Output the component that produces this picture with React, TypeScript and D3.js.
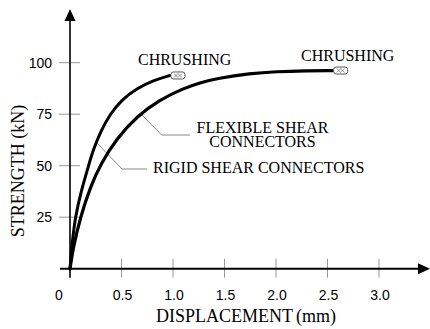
import React from "react";
import * as d3 from "d3";

const W = 430;
const H = 329;

const xTicks = [0, 0.5, 1.0, 1.5, 2.0, 2.5, 3.0];
const xTickLabels = ["0", "0.5", "1.0", "1.5", "2.0", "2.5", "3.0"];
const yTicks = [25, 50, 75, 100];
const yTickLabels = ["25", "50", "75", "100"];

// displacement (mm), strength (kN)
const rigidX = [0, 0.02, 0.05, 0.11, 0.175, 0.22, 0.3, 0.39, 0.5, 0.65, 0.8, 0.97];
const rigidY = [0, 12, 25, 38, 49, 57, 67, 75, 82, 87.5, 91.3, 93.8];
const flexX = [0, 0.03, 0.1, 0.2, 0.3, 0.45, 0.65, 0.87, 1.1, 1.26, 1.43, 1.75, 2.0, 2.3, 2.55];
const flexY = [0, 10, 25, 40, 51, 63, 74, 82, 87.5, 90.3, 92.4, 94.8, 95.7, 96.1, 96.2];

export default function App() {
  const x = d3.scaleLinear().domain([0, 3]).range([70, 379]);
  const y = d3.scaleLinear().domain([0, 100]).range([268.7, 62.7]);
  const line = d3
    .line<[number, number]>()
    .x((d) => x(d[0]))
    .y((d) => y(d[1]))
    .curve(d3.curveBasis);
  const rigid: [number, number][] = rigidX.map((v, i) => [v, rigidY[i]]);
  const flex: [number, number][] = flexX.map((v, i) => [v, flexY[i]]);
  const x0 = x(0);
  const y0 = y(0);
  const serif = "'Liberation Serif', 'Times New Roman', serif";
  const sans = "'Liberation Sans', Arial, sans-serif";

  const marker = (cx: number, cy: number) => (
    <g>
      <rect x={cx - 7} y={cy - 3.5} width={14} height={7} rx={2.5} fill="#fff" stroke="#555" strokeWidth={1} />
      <path d={`M${cx - 4},${cy - 2} L${cx},${cy + 2} M${cx - 4},${cy + 2} L${cx},${cy - 2} M${cx},${cy - 2} L${cx + 4},${cy + 2} M${cx},${cy + 2} L${cx + 4},${cy - 2}`} stroke="#777" strokeWidth={0.8} />
    </g>
  );

  const leader = (pts: [number, number][]) =>
    pts.map((p) => `${x(p[0])},${y(p[1])}`).join(" ");

  const rEnd = rigid[rigid.length - 1];
  const fEnd = flex[flex.length - 1];

  return (
    <svg width={W} height={H} style={{ position: "absolute", left: 0, top: 0, background: "#fff" }}>
      {/* ticks */}
      {xTicks.slice(1).map((t) => (
        <line key={"xt" + t} x1={x(t)} x2={x(t)} y1={y0 - 10} y2={y0 + 9} stroke="#999" strokeWidth={1} />
      ))}
      {yTicks.map((t) => (
        <line key={"yt" + t} x1={x0 - 11} x2={x0 + 10} y1={y(t)} y2={y(t)} stroke="#999" strokeWidth={1} />
      ))}
      {/* axes */}
      <line x1={x0 - 10} x2={420} y1={y0} y2={y0} stroke="#000" strokeWidth={2} />
      <line x1={x0} x2={x0} y1={y0 + 9} y2={20} stroke="#000" strokeWidth={1.6} />
      <path d={`M${x0},9 L${x0 - 5.5},21 L${x0 + 5.5},21 Z`} fill="#000" />
      <path d={`M430,${y0} L418,${y0 - 5.5} L418,${y0 + 5.5} Z`} fill="#000" />
      {/* tick labels */}
      {xTicks.map((t, i) => (
        <text key={"xl" + t} x={i === 0 ? x(t) - 11 : x(t) + 1} y={300} textAnchor="middle" fontFamily={sans} fontSize={14} fill="#000">
          {xTickLabels[i]}
        </text>
      ))}
      {yTicks.map((t, i) => (
        <text key={"yl" + t} x={52} y={y(t) + 5} textAnchor="end" fontFamily={sans} fontSize={14} fill="#000">
          {yTickLabels[i]}
        </text>
      ))}
      {/* axis titles */}
      <text x={246} y={322} textAnchor="middle" fontFamily={serif} fontSize={18} fill="#000">
        DISPLACEMENT<tspan dx={3}>(mm)</tspan>
      </text>
      <text transform={`translate(24,171) rotate(-90)`} textAnchor="middle" fontFamily={serif} fontSize={18} fill="#000">
        STRENGTH (kN)
      </text>
      {/* leaders */}
      <polyline points={leader([[0.7, 74.6], [0.89, 64.9], [1.165, 64.9]])} fill="none" stroke="#888" strokeWidth={1} />
      <polyline points={leader([[0.262, 61], [0.505, 48.4], [0.748, 48.4]])} fill="none" stroke="#888" strokeWidth={1} />
      {/* curves */}
      <path d={line(rigid) || ""} fill="none" stroke="#000" strokeWidth={3} strokeLinecap="round" />
      <path d={line(flex) || ""} fill="none" stroke="#000" strokeWidth={3.2} strokeLinecap="round" />
      {marker(x(rEnd[0]) + 8, y(rEnd[1]))}
      {marker(x(fEnd[0]) + 8, y(fEnd[1]))}
      {/* annotations */}
      <text x={x(0.66)} y={y(98.9)} fontFamily={serif} fontSize={16} fill="#000">CHRUSHING</text>
      <text x={x(2.243)} y={y(100.8)} fontFamily={serif} fontSize={16} fill="#000">CHRUSHING</text>
      <text textAnchor="middle" fontFamily={serif} fontSize={16} fill="#000">
        <tspan x={x(1.869)} y={y(65.9)}>FLEXIBLE SHEAR</tspan>
        <tspan x={x(1.869)} y={y(59.1)}>CONNECTORS</tspan>
      </text>
      <text x={x(0.806)} y={y(46.5)} fontFamily={serif} fontSize={16} fill="#000">RIGID SHEAR CONNECTORS</text>
    </svg>
  );
}
